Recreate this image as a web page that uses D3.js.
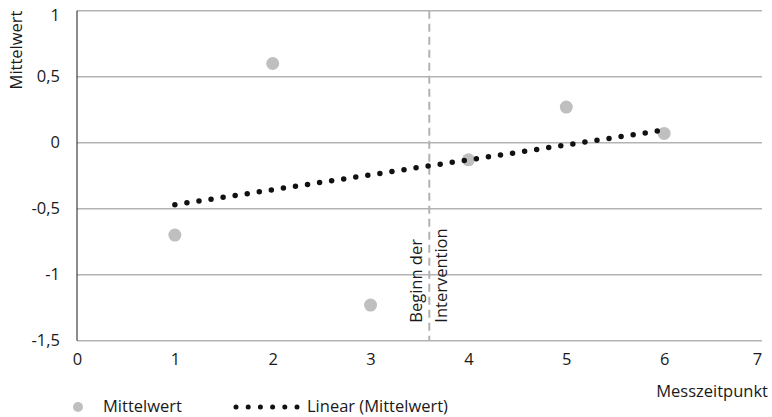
<!DOCTYPE html>
<html><head><meta charset="utf-8">
<script src="https://cdn.jsdelivr.net/npm/d3@7"></script>
<style>body{margin:0;background:#fff}svg{display:block}text{font-family:"Open Sans",sans-serif;fill:#1a1a1a}</style>
</head><body><svg id="c" width="772" height="417"></svg>
<script>
const xValues = [1, 2, 3, 4, 5, 6];
const meanValues = [-0.7, 0.6, -1.23, -0.13, 0.27, 0.07];
const yTicks = [1, 0.5, 0, -0.5, -1, -1.5];
const xTicks = [0, 1, 2, 3, 4, 5, 6, 7];
const interventionX = 3.6;
const seriesName = "Mittelwert";
const trendName = "Linear (Mittelwert)";
const xTitle = "Messzeitpunkt";
const yTitle = "Mittelwert";
const annotLines = ["Beginn der", "Intervention"];

const FS = 16.5;
const svg = d3.select("#c");
const x = d3.scaleLinear().domain([0, 7]).range([77, 762]);
const y = d3.scaleLinear().domain([-1.5, 1]).range([340.7, 10.7]);
const fmt = v => String(v).replace(".", ",");

// gridlines
svg.append("g").selectAll("line").data(yTicks).join("line")
  .attr("x1", x(0)).attr("x2", x(7)).attr("y1", d => y(d)).attr("y2", d => y(d))
  .attr("stroke", "#b3b3b3").attr("stroke-width", 1.5);

// y axis line
svg.append("line").attr("x1", x(0)).attr("x2", x(0)).attr("y1", y(1)).attr("y2", y(-1.5))
  .attr("stroke", "#1a1a1a").attr("stroke-width", 1);

// y tick labels
const yAxis = d3.axisLeft(y).tickValues(yTicks).tickFormat(fmt).tickSize(0).tickPadding(0);
const gy = svg.append("g").attr("transform", `translate(${x(0) - 17},0)`).call(yAxis);
gy.select(".domain").remove();
gy.selectAll("text").attr("font-size", FS).attr("font-family", "Open Sans").attr("fill", "#1a1a1a");
gy.selectAll(".tick").filter(d => d === d3.max(yTicks)).select("text").attr("dy", "0.32em").attr("y", 5);

// x tick labels
const xAxis = d3.axisBottom(x).tickValues(xTicks).tickFormat(fmt).tickSize(0).tickPadding(0);
const gx = svg.append("g").attr("transform", `translate(0,${y(-1.5) + 13})`).call(xAxis);
gx.select(".domain").remove();
gx.selectAll("text").attr("font-size", FS).attr("font-family", "Open Sans").attr("fill", "#1a1a1a");
gx.selectAll(".tick").filter(d => d === d3.max(xTicks)).select("text").attr("x", -5);

// intervention line
svg.append("line").attr("x1", x(interventionX)).attr("x2", x(interventionX))
  .attr("y1", y(1)).attr("y2", y(-1.5))
  .attr("stroke", "#b3b3b3").attr("stroke-width", 2).attr("stroke-dasharray", "8,5");

const ann = svg.append("text").attr("transform", `translate(${x(interventionX) - 7},${y(-1.5) - 18}) rotate(-90)`)
  .attr("font-size", FS);
annotLines.forEach((t, i) => ann.append("tspan").attr("x", 0).attr("dy", i === 0 ? 0 : 25).text(t));

// data points
const data = xValues.map((d, i) => ({x: d, y: meanValues[i]}));
svg.append("g").selectAll("circle").data(data).join("circle")
  .attr("cx", d => x(d.x)).attr("cy", d => y(d.y)).attr("r", 6.5).attr("fill", "#bfbfbf");

// linear trend (least squares)
const mx = d3.mean(xValues), my = d3.mean(meanValues);
const slope = d3.sum(data, d => (d.x - mx) * (d.y - my)) / d3.sum(data, d => (d.x - mx) ** 2);
const icpt = my - slope * mx;
const x0 = d3.min(xValues), x1 = d3.max(xValues);
svg.append("line").attr("x1", x(x0)).attr("y1", y(icpt + slope * x0))
  .attr("x2", x(x1)).attr("y2", y(icpt + slope * x1))
  .attr("stroke", "#111").attr("stroke-width", 5.5).attr("stroke-linecap", "round")
  .attr("stroke-dasharray", "0,12.2");

// axis titles
svg.append("text").attr("transform", `translate(22,50) rotate(-90)`).attr("text-anchor", "middle")
  .attr("font-size", FS).text(yTitle);
svg.append("text").attr("x", 768).attr("y", 397).attr("text-anchor", "end").attr("font-size", FS).text(xTitle);

// legend
const ly = 407;
svg.append("circle").attr("cx", 78).attr("cy", ly).attr("r", 5).attr("fill", "#bfbfbf");
svg.append("text").attr("x", 103).attr("y", ly + 5).attr("font-size", FS).text(seriesName);
svg.append("line").attr("x1", 236).attr("x2", 297).attr("y1", ly).attr("y2", ly)
  .attr("stroke", "#111").attr("stroke-width", 5).attr("stroke-linecap", "round")
  .attr("stroke-dasharray", "0,12.2");
svg.append("text").attr("x", 307).attr("y", ly + 5).attr("font-size", FS).text(trendName);
</script></body></html>
